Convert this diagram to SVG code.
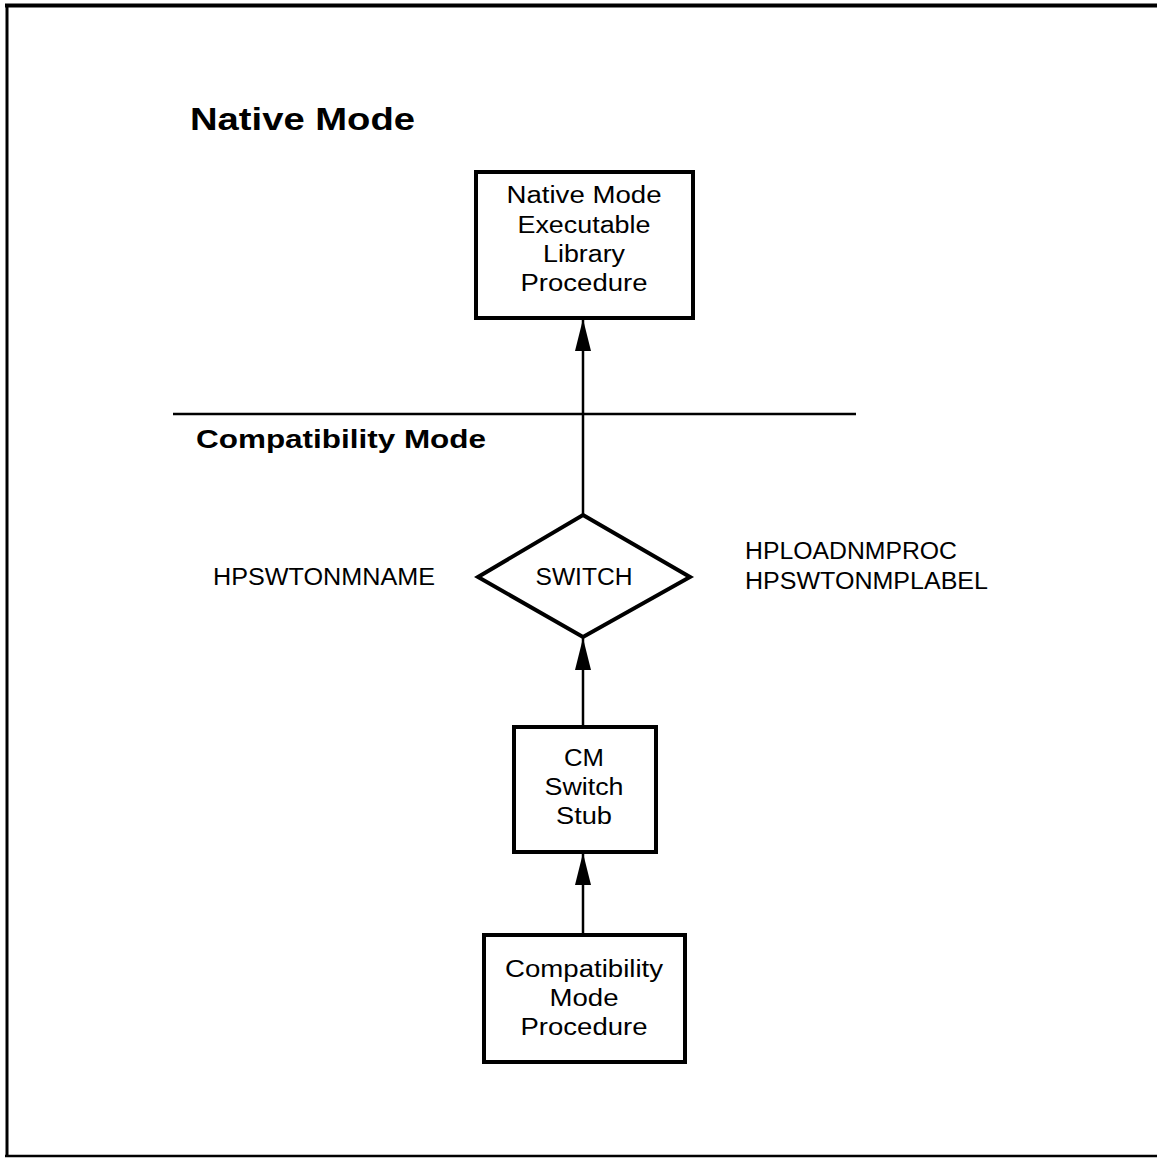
<svg xmlns="http://www.w3.org/2000/svg" width="1157" height="1159" viewBox="0 0 1157 1159">
  <style>
    .box { fill: #fff; stroke: #000; stroke-width: 4; }
    .lbl { font-family: "Liberation Sans", Arial, sans-serif; font-size: 23px; fill: #000; text-anchor: middle; }
    .side { font-family: "Liberation Sans", Arial, sans-serif; font-size: 23px; fill: #000; }
    .head { font-family: "Liberation Sans", Arial, sans-serif; font-weight: bold; fill: #000; }
    .edge { stroke: #000; stroke-width: 2.5; fill: none; marker-end: url(#arrow); }
  </style>
  <defs>
    <marker id="arrow" markerUnits="userSpaceOnUse" markerWidth="32" markerHeight="18" refX="32" refY="9" orient="auto" viewBox="0 0 32 18">
      <path d="M0,1 L32,9 L0,17 Z" fill="#000"/>
    </marker>
  </defs>
  <rect width="1157" height="1159" fill="#fff"/>

  <!-- page frame -->
  <g id="frame" stroke="#000" fill="none">
    <line x1="5" y1="5.5" x2="1157" y2="5.5" stroke-width="4"/>
    <line x1="7" y1="4" x2="7" y2="1157" stroke-width="3"/>
    <line x1="5" y1="1156" x2="1157" y2="1156" stroke-width="2.5"/>
  </g>

  <!-- mode divider and headings -->
  <g id="divider">
    <line x1="173" y1="414" x2="856" y2="414" stroke="#000" stroke-width="2.5"/>
    <text class="head" x="190" y="130" font-size="31" textLength="225" lengthAdjust="spacingAndGlyphs">Native Mode</text>
    <text class="head" x="196" y="448" font-size="26.5" textLength="290" lengthAdjust="spacingAndGlyphs">Compatibility Mode</text>
  </g>

  <!-- connectors -->
  <g id="connectors">
    <line class="edge" x1="583" y1="515" x2="583" y2="319"/>
    <line class="edge" x1="583" y1="727" x2="583" y2="638"/>
    <line class="edge" x1="583" y1="935" x2="583" y2="853"/>
  </g>

  <g id="nm-proc">
    <rect class="box" x="476" y="172" width="217" height="146"/>
    <text class="lbl" x="584" y="203" textLength="155" lengthAdjust="spacingAndGlyphs">Native Mode</text>
    <text class="lbl" x="584" y="233" textLength="133" lengthAdjust="spacingAndGlyphs">Executable</text>
    <text class="lbl" x="584" y="262" textLength="82" lengthAdjust="spacingAndGlyphs">Library</text>
    <text class="lbl" x="584" y="291" textLength="127" lengthAdjust="spacingAndGlyphs">Procedure</text>
  </g>

  <g id="switch">
    <polygon class="box" points="583,515 690,577 583,637 478,577"/>
    <text class="lbl" x="584" y="585" textLength="97" lengthAdjust="spacingAndGlyphs">SWITCH</text>
  </g>

  <g id="switch-name">
    <text class="side" x="213" y="585" textLength="222" lengthAdjust="spacingAndGlyphs">HPSWTONMNAME</text>
  </g>

  <g id="switch-label">
    <text class="side" x="745" y="559" textLength="212" lengthAdjust="spacingAndGlyphs">HPLOADNMPROC</text>
    <text class="side" x="745" y="589" textLength="243" lengthAdjust="spacingAndGlyphs">HPSWTONMPLABEL</text>
  </g>

  <g id="cm-stub">
    <rect class="box" x="514" y="727" width="142" height="125"/>
    <text class="lbl" x="584" y="766" textLength="40" lengthAdjust="spacingAndGlyphs">CM</text>
    <text class="lbl" x="584" y="795" textLength="79" lengthAdjust="spacingAndGlyphs">Switch</text>
    <text class="lbl" x="584" y="824" textLength="56" lengthAdjust="spacingAndGlyphs">Stub</text>
  </g>

  <g id="cm-proc">
    <rect class="box" x="484" y="935" width="201" height="127"/>
    <text class="lbl" x="584" y="977" textLength="158" lengthAdjust="spacingAndGlyphs">Compatibility</text>
    <text class="lbl" x="584" y="1006" textLength="69" lengthAdjust="spacingAndGlyphs">Mode</text>
    <text class="lbl" x="584" y="1035" textLength="127" lengthAdjust="spacingAndGlyphs">Procedure</text>
  </g>
</svg>
